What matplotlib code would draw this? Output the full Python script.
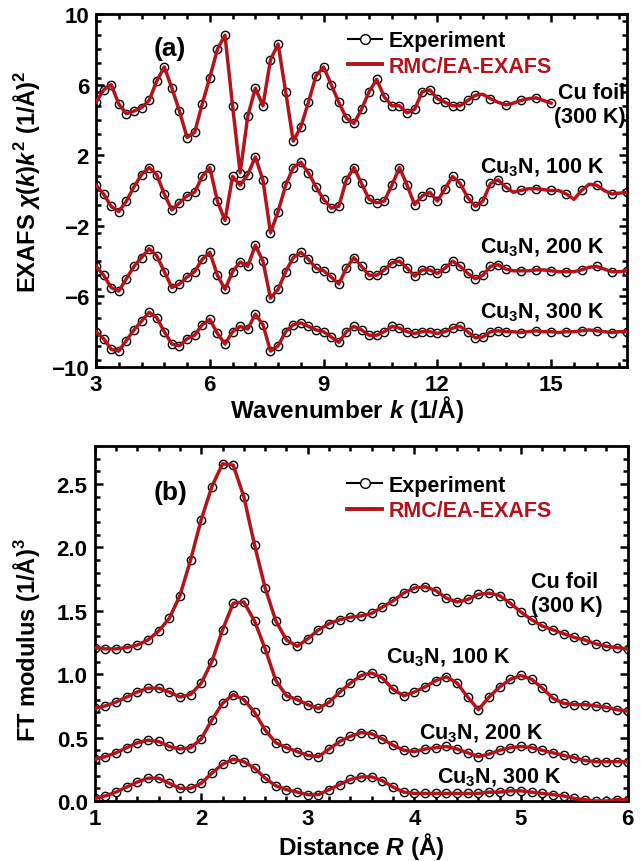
import numpy as np
import matplotlib
matplotlib.use("Agg")
import matplotlib.pyplot as plt
from matplotlib.ticker import MultipleLocator
from matplotlib.lines import Line2D

plt.rcParams['font.family'] = ['Liberation Sans', 'DejaVu Sans']
plt.rcParams['font.weight'] = 'bold'
plt.rcParams['axes.labelweight'] = 'bold'
plt.rcParams['mathtext.fontset'] = 'custom'
plt.rcParams['mathtext.rm'] = 'Liberation Sans:bold'
plt.rcParams['mathtext.it'] = 'Liberation Sans:bold:italic'
plt.rcParams['mathtext.bf'] = 'Liberation Sans:bold'

RED = '#B3141C'

# ---------------- (a) EXAFS data ----------------
k_foil = np.round(np.arange(3.0, 15.01, 0.2), 2)
chi_foil = [5.0, 5.7, 6.0, 4.9, 4.35, 4.5, 4.7, 5.1, 6.2, 7.0,
            5.8, 4.5, 3.0, 3.3, 4.9, 6.4, 8.0, 8.8, 4.8, 1.0,
            4.2, 5.8, 4.8, 7.4, 8.3, 5.6, 2.8, 3.6, 5.0, 6.5,
            7.0, 6.0, 5.0, 4.1, 3.8, 4.6, 5.6, 6.3, 5.3, 4.8,
            4.8, 4.4, 4.6, 5.6, 5.7, 5.2, 5.0, 4.8, 4.8, 5.1,
            5.4, 5.45, 5.2, 5.0, 4.85, 4.95, 5.1, 5.2, 5.25, 5.1,
            4.95]

k_n = np.round(np.arange(3.0, 17.01, 0.2), 2)
chi_100 = [0.3, -0.2, -0.9, -1.2, -0.6, 0.2, 0.9, 1.3, 0.9, -0.2,
           -1.1, -0.7, -0.3, -0.1, 0.8, 1.3, -0.6, -1.7, 0.8, 0.3,
           0.9, 1.9, 0.6, -2.4, -1.2, 0.3, 1.3, 1.6, 1.0, 0.2,
           -0.5, -1.0, -0.9, 0.6, 1.3, 0.4, -0.5, -0.7, -0.6, 0.3,
           1.3, 0.3, -0.8, -0.3, -0.1, -0.6, 0.1, 0.8, 0.4, -0.4,
           -0.9, -0.6, 0.4, 0.6, 0.2, -0.1, 0.0, 0.1, 0.1, 0.05,
           0.0, 0.0, -0.2, -0.5, 0.0, 0.35, 0.3, 0.0, -0.2, -0.15,
           -0.1]
chi_200 = [-4.3, -4.8, -5.5, -5.7, -5.0, -4.3, -3.8, -3.3, -3.7, -4.6,
           -5.5, -5.3, -4.9, -4.6, -3.9, -3.5, -4.8, -5.6, -4.6, -4.05,
           -4.3, -3.1, -4.0, -6.1, -5.6, -4.6, -3.8, -3.5, -3.9, -4.4,
           -4.55, -4.9, -5.3, -4.4, -3.8, -4.3, -4.8, -4.8, -4.5, -4.1,
           -4.0, -4.4, -4.85, -4.5, -4.5, -4.7, -4.4, -4.0, -4.3, -4.7,
           -5.0, -4.8, -4.3, -4.2, -4.45, -4.55, -4.55, -4.55, -4.5, -4.5,
           -4.55, -4.6, -4.6, -4.6, -4.5, -4.35, -4.3, -4.45, -4.6, -4.6,
           -4.55]
chi_300 = [-8.0, -8.4, -9.0, -9.1, -8.5, -7.9, -7.4, -6.9, -7.2, -8.0,
           -8.7, -8.8, -8.4, -8.2, -7.6, -7.3, -8.1, -8.7, -8.0, -7.7,
           -7.85, -7.0, -7.6, -9.1, -8.8, -8.0, -7.6, -7.5, -7.7, -7.9,
           -8.0, -8.3, -8.6, -8.0, -7.7, -7.9, -8.2, -8.2, -8.0, -7.7,
           -7.8, -8.0, -8.1, -8.0, -8.0, -8.1, -8.0, -7.8, -7.7, -8.0,
           -8.35, -8.3, -8.0, -7.95, -8.0, -8.0, -8.05, -8.0, -7.95, -8.0,
           -8.0, -8.05, -8.0, -8.0, -7.95, -7.9, -7.95, -8.0, -8.05, -8.0,
           -8.0]

# ---------------- (b) FT data ----------------
R = np.round(np.arange(1.0, 6.001, 0.1), 2)
ft_foil = [1.21, 1.20, 1.20, 1.21, 1.23, 1.27, 1.34, 1.44, 1.62, 1.90,
           2.22, 2.48, 2.66, 2.65, 2.40, 2.02, 1.68, 1.42, 1.27, 1.22,
           1.28, 1.35, 1.40, 1.43, 1.45, 1.46, 1.48, 1.53, 1.58, 1.64,
           1.68, 1.69, 1.66, 1.60, 1.57, 1.59, 1.63, 1.64, 1.62, 1.56,
           1.49, 1.43, 1.38, 1.35, 1.32, 1.29, 1.27, 1.24, 1.22, 1.21,
           1.20]
ft_100 = [0.73, 0.75, 0.78, 0.82, 0.86, 0.89, 0.89, 0.86, 0.82, 0.84,
          0.93, 1.10, 1.35, 1.56, 1.57, 1.42, 1.20, 0.95, 0.83, 0.80,
          0.76, 0.73, 0.78, 0.86, 0.93, 0.99, 1.01, 0.97, 0.88, 0.83,
          0.86, 0.90, 0.95, 0.98, 0.93, 0.82, 0.72, 0.82, 0.90, 0.96,
          0.99, 0.96, 0.89, 0.81, 0.77, 0.76, 0.76, 0.75, 0.74, 0.72,
          0.71]
ft_200 = [0.33, 0.35, 0.38, 0.42, 0.46, 0.48, 0.47, 0.43, 0.41, 0.42,
          0.49, 0.64, 0.77, 0.84, 0.80, 0.70, 0.56, 0.46, 0.42, 0.39,
          0.36, 0.35, 0.41, 0.47, 0.51, 0.54, 0.53, 0.49, 0.44, 0.40,
          0.39, 0.41, 0.42, 0.43, 0.41, 0.38, 0.35, 0.37, 0.40, 0.42,
          0.43, 0.42, 0.40, 0.38, 0.36, 0.34, 0.32, 0.31, 0.31, 0.31,
          0.31]
ft_300 = [0.02, 0.04, 0.07, 0.11, 0.15, 0.18, 0.18, 0.14, 0.10, 0.10,
          0.14, 0.22, 0.29, 0.33, 0.31, 0.26, 0.18, 0.12, 0.09, 0.07,
          0.05, 0.05, 0.09, 0.13, 0.17, 0.19, 0.19, 0.16, 0.11, 0.07,
          0.06, 0.06, 0.06, 0.06, 0.06, 0.06, 0.06, 0.07, 0.07, 0.08,
          0.08, 0.07, 0.06, 0.05, 0.04, 0.02, 0.01, 0.0, 0.0, 0.01,
          0.01]

# tick values / labels
xt_a = [3, 6, 9, 12, 15]
xt_a_lab = ['3', '6', '9', '12', '15']
yt_a = [-10, -6, -2, 2, 6, 10]
yt_a_lab = ['\u221210', '\u22126', '\u22122', '2', '6', '10']
xt_b = [1, 2, 3, 4, 5, 6]
xt_b_lab = ['1', '2', '3', '4', '5', '6']
yt_b = [0.0, 0.5, 1.0, 1.5, 2.0, 2.5]
yt_b_lab = ['0.0', '0.5', '1.0', '1.5', '2.0', '2.5']

labels_a = ["Cu foil", "(300 K)", "Cu$_{\\mathrm{3}}$N, 100 K",
            "Cu$_{\\mathrm{3}}$N, 200 K", "Cu$_{\\mathrm{3}}$N, 300 K"]

fig = plt.figure(figsize=(6.41, 8.62), dpi=100)
axa = fig.add_axes([0.1498, 0.5731, 0.8284, 0.4095])
axb = fig.add_axes([0.1476, 0.0696, 0.8315, 0.4118])

def draw(ax, x, y, me):
    ax.plot(x, y, '-', color='black', lw=0.9, marker='o', ms=6.0,
            mfc='white', mec='black', mew=1.0, zorder=2, markevery=me)
    ax.plot(x, y, '-', color=RED, lw=2.5, zorder=3)

for arr, kk, kcut in [(chi_foil, k_foil, 13.0), (chi_100, k_n, 13.7),
                      (chi_200, k_n, 13.7), (chi_300, k_n, 13.7)]:
    kk = np.asarray(kk)
    mask = (kk < kcut) | (np.arange(len(kk)) % 2 == 0)
    draw(axa, kk, arr, mask)
for arr in [ft_foil, ft_100, ft_200, ft_300]:
    draw(axb, R, arr, None)

def style(ax, xt, xl, yt, yl):
    for s in ax.spines.values():
        s.set_linewidth(2.0)
    ax.set_xticks(xt)
    ax.set_xticklabels(xl, fontsize=16, fontweight='bold')
    ax.set_yticks(yt)
    ax.set_yticklabels(yl, fontsize=16, fontweight='bold')
    ax.tick_params(which='both', direction='in', top=True, right=True,
                   width=1.8, pad=5)
    ax.tick_params(which='major', length=6)
    ax.tick_params(which='minor', length=3.5)

axa.xaxis.set_minor_locator(MultipleLocator(0.6))
axa.yaxis.set_minor_locator(MultipleLocator(0.8))
style(axa, xt_a, xt_a_lab, yt_a, yt_a_lab)
axa.set_xlim(3, 17)
axa.set_ylim(-10, 10)
axa.set_xlabel("Wavenumber $k$ (1/Å)", fontsize=17.5, labelpad=1)
axa.xaxis.set_label_coords(0.472, -0.075)
axa.set_ylabel("EXAFS $\\chi$($k$)$k^{\\mathrm{2}}$ (1/Å)$^{\\mathrm{2}}$", fontsize=17)
axa.yaxis.set_label_coords(-0.102, 0.527)

axb.xaxis.set_minor_locator(MultipleLocator(0.2))
axb.yaxis.set_minor_locator(MultipleLocator(0.1))
style(axb, xt_b, xt_b_lab, yt_b, yt_b_lab)
axb.set_xlim(1, 6)
axb.set_ylim(0, 2.8)
axb.set_xlabel("Distance $R$ (Å)", fontsize=17.5, labelpad=1)
axb.set_ylabel("FT modulus (1/Å)$^{\\mathrm{3}}$", fontsize=17)
axb.yaxis.set_label_coords(-0.098, 0.456)

h_exp = Line2D([], [], color='black', lw=1.5, marker='o', ms=7, mfc='white', mec='black', mew=1.0)
h_mod = Line2D([], [], color=RED, lw=2.8)
for ax, anchor in [(axa, (0.45, 0.99)), (axb, (0.45, 0.955))]:
    ax.legend([h_exp, h_mod], ["Experiment", "RMC/EA-EXAFS"], loc='upper left',
              bbox_to_anchor=anchor, frameon=False, fontsize=15.5, handlelength=1.6,
              handletextpad=0.3, labelspacing=0.2, labelcolor='linecolor', numpoints=1,
              borderaxespad=0.2)

fs = 15.5
axa.text(4.95, 8.1, "(a)", fontsize=19, ha='center', va='center')
axa.text(16.95, 5.58, labels_a[0], fontsize=fs, ha='right', va='center')
axa.text(16.95, 4.22, labels_a[1], fontsize=fs, ha='right', va='center')
axa.text(16.4, 1.33, labels_a[2], fontsize=fs, ha='right', va='center')
axa.text(16.4, -3.2, labels_a[3], fontsize=fs, ha='right', va='center')
axa.text(16.4, -6.9, labels_a[4], fontsize=fs, ha='right', va='center')

axb.text(1.71, 2.44, "(b)", fontsize=19, ha='center', va='center')
axb.text(5.72, 1.73, labels_a[0], fontsize=fs, ha='right', va='center')
axb.text(5.77, 1.54, labels_a[1], fontsize=fs, ha='right', va='center')
axb.text(4.90, 1.14, labels_a[2], fontsize=fs, ha='right', va='center')
axb.text(5.21, 0.54, labels_a[3], fontsize=fs, ha='right', va='center')
axb.text(5.38, 0.19, labels_a[4], fontsize=fs, ha='right', va='center')

fig.savefig("out.png", dpi=100)
